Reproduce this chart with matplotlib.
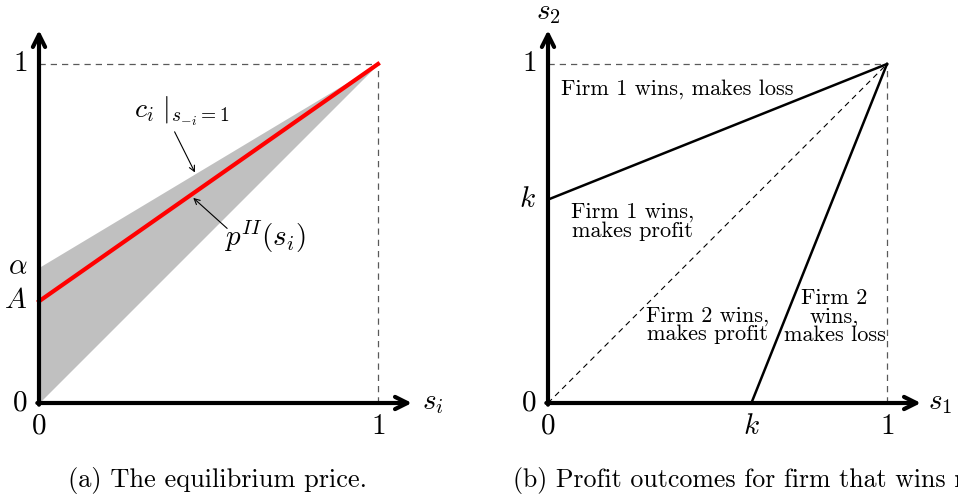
import matplotlib.pyplot as plt

plt.rcParams['font.family'] = 'serif'
plt.rcParams['font.serif'] = ['cmr10', 'DejaVu Serif']
plt.rcParams['mathtext.fontset'] = 'cm'
plt.rcParams['axes.formatter.use_mathtext'] = True

# painel (a): preço de equilíbrio
s_vals = [0.0, 1.0]
c_upper = [0.4, 1.0]   # alpha -> 1
c_lower = [0.0, 1.0]
p_two = [0.3, 1.0]     # A -> 1
left_ticks_y = [(0.0, '$0$'), (0.3, '$A$'), (0.4, r'$\alpha$'), (1.0, '$1$')]
left_ticks_x = [(0.0, '$0$'), (1.0, '$1$')]

# painel (b): regiões de lucro
k = 0.6
line_f1 = ([0.0, 1.0], [k, 1.0])
line_f2 = ([k, 1.0], [0.0, 1.0])
diag = ([0.0, 1.0], [0.0, 1.0])
right_ticks_y = [(0.0, '$0$'), (k, '$k$'), (1.0, '$1$')]
right_ticks_x = [(0.0, '$0$'), (k, '$k$'), (1.0, '$1$')]
regions = [
    (0.38, 0.925, 'Firm 1 wins, makes loss'),
    (0.25, 0.535, 'Firm 1 wins,\nmakes profit'),
    (0.47, 0.23, 'Firm 2 wins,\nmakes profit'),
    (0.845, 0.255, 'Firm 2\nwins,\nmakes loss'),
]

W, H = 958, 499
fig = plt.figure(figsize=(W / 100, H / 100), dpi=100)
unit = 339.0


def make_ax(ox, oy):
    # ox, oy: posição em pixels da origem (oy a partir do topo)
    x0 = ox - 0.1 * unit
    y0 = (H - oy) - 0.1 * unit
    ax = fig.add_axes([x0 / W, y0 / H, 1.3 * unit / W, 1.25 * unit / H])
    ax.set_xlim(-0.1, 1.2)
    ax.set_ylim(-0.1, 1.15)
    ax.axis('off')
    return ax


def draw_axes(ax):
    ax.plot([1, 1], [0, 1], ls=(0, (5, 4)), color='0.35', lw=0.9)
    ax.plot([0, 1], [1, 1], ls=(0, (5, 4)), color='0.35', lw=0.9)
    ap = dict(arrowstyle='->', lw=3, mutation_scale=22, shrinkA=0, shrinkB=0, color='black')
    ax.annotate('', xy=(1.1, 0), xytext=(-0.005, 0), arrowprops=ap)
    ax.annotate('', xy=(0, 1.1), xytext=(0, -0.005), arrowprops=ap)


def tick_labels(ax, ys, xs):
    for v, lab in ys:
        ax.text(-0.035, v, lab, ha='right', va='center', fontsize=21)
    for v, lab in xs:
        ax.text(v, -0.03, lab, ha='center', va='top', fontsize=21)


small_arrow = dict(arrowstyle='->', lw=0.8, shrinkA=0, shrinkB=0)

# (a)
ax1 = make_ax(39, 403)
ax1.fill_between(s_vals, c_lower, c_upper, color='#c0c0c0', lw=0)
draw_axes(ax1)
ax1.plot(s_vals, p_two, color='red', lw=3)
tick_labels(ax1, left_ticks_y, left_ticks_x)
ax1.text(1.13, 0.0, '$s_i$', fontsize=21, ha='left', va='center')
ax1.text(0.42, 0.86, r'$c_i\ |_{s_{-i}=1}$', fontsize=20, ha='center', va='center')
ax1.annotate('', xy=(0.46, 0.68), xytext=(0.40, 0.80), arrowprops=small_arrow)
ax1.text(0.665, 0.49, r'$p^{II}(s_i)$', fontsize=21, ha='center', va='center')
ax1.annotate('', xy=(0.455, 0.605), xytext=(0.555, 0.515), arrowprops=small_arrow)

# (b)
ax2 = make_ax(548, 403)
ax2.plot(*diag, ls=(0, (5, 4)), color='black', lw=0.8)
draw_axes(ax2)
ax2.plot(*line_f1, color='black', lw=1.8)
ax2.plot(*line_f2, color='black', lw=1.8)
tick_labels(ax2, right_ticks_y, right_ticks_x)
ax2.text(1.12, 0.0, '$s_1$', fontsize=21, ha='left', va='center')
fig.text(548 / W, 1 - 13 / H, '$s_2$', fontsize=21, ha='center', va='center')
for x, y, txt in regions:
    ax2.text(x, y, txt, fontsize=16, ha='center', va='center', linespacing=0.92)

fig.text(218 / W, 1 - 481 / H, '(a) The equilibrium price.', fontsize=19, ha='center', va='center')
fig.text(513 / W, 1 - 481 / H, '(b) Profit outcomes for firm that wins n',
         fontsize=18.6, ha='left', va='center')

fig.savefig('out.png', dpi=100)
